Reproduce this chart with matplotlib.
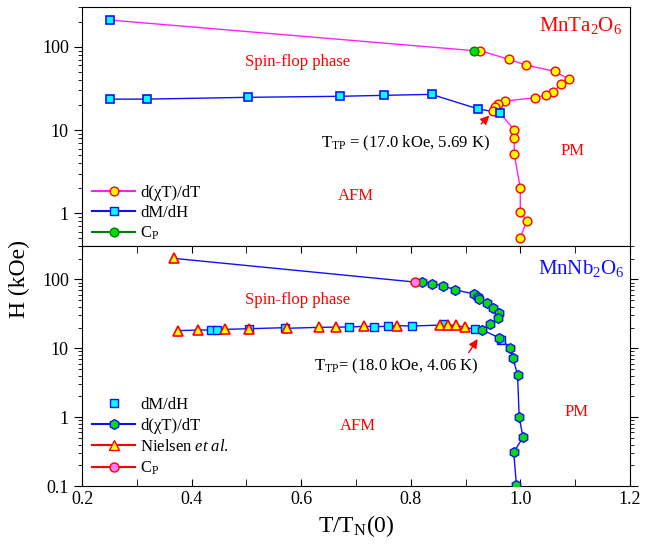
import matplotlib
matplotlib.use('Agg')
import matplotlib.pyplot as plt
from matplotlib.lines import Line2D
from matplotlib.ticker import LogLocator, NullFormatter, FixedLocator, FixedFormatter

plt.rcParams['font.family'] = ['Liberation Serif', 'DejaVu Serif']
plt.rcParams['mathtext.fontset'] = 'custom'
plt.rcParams['mathtext.rm'] = 'Liberation Serif'
plt.rcParams['mathtext.it'] = 'Liberation Serif:italic'
plt.rcParams['mathtext.default'] = 'regular'

# MnTa2O6 (top panel)
ta_dmdh_x = [0.251, 0.251, 0.318, 0.503, 0.670, 0.752, 0.838, 0.922, 0.963]
ta_dmdh_h = [209, 23.5, 23.5, 24.7, 25.4, 26.1, 26.8, 18.0, 16.1]
ta_chi_x = [0.927, 0.979, 1.010, 1.063, 1.089, 1.074, 1.060, 1.047, 1.026,
            0.973, 0.959, 0.953, 0.950, 0.989, 0.989, 0.989, 1.000, 1.000,
            1.012, 1.000]
ta_chi_h = [89.6, 70.5, 60.3, 50.6, 40.6, 35.3, 28.6, 26.1, 24.4, 22.3, 20.3,
            18.7, 17.1, 10.0, 8.1, 5.1, 2.03, 1.03, 0.82, 0.51]
ta_cp_x = [0.916]
ta_cp_h = [89.6]

# MnNb2O6 (bottom panel)
nb_niel_x = [0.367, 0.376, 0.412, 0.461, 0.504, 0.575, 0.632, 0.664, 0.715,
             0.775, 0.854, 0.868, 0.883, 0.899]
nb_niel_h = [202, 18.0, 18.4, 18.8, 19.2, 19.5, 20.1, 20.3, 20.8, 21.3, 21.7,
             21.7, 21.5, 20.1]
nb_dmdh_x = [0.435, 0.446, 0.504, 0.571, 0.688, 0.733, 0.758, 0.803, 0.861,
             0.917, 0.964]
nb_dmdh_h = [18.4, 18.6, 19.2, 19.9, 20.3, 20.6, 20.8, 21.0, 22.2, 18.8, 13.2]
nb_chi_x = [0.820, 0.838, 0.859, 0.880, 0.916, 0.923, 0.925, 0.940, 0.951,
            0.961, 0.959, 0.945, 0.931, 0.961, 0.982, 0.987, 0.995, 0.998,
            1.005, 0.988, 0.993]
nb_chi_h = [91.5, 86.5, 80.9, 70.8, 61.2, 56.0, 51.3, 45.8, 37.9, 32.8, 27.2,
            22.5, 18.4, 14.2, 10.2, 7.1, 4.09, 1.0, 0.51, 0.308, 0.103]
nb_cp_x = [0.807]
nb_cp_h = [91.5]

x_ticks = [0.2, 0.4, 0.6, 0.8, 1.0, 1.2]
x_labels = ['0.2', '0.4', '0.6', '0.8', '1.0', '1.2']

MAG = '#ff22ff'
BLUE = '#1010ff'
FS = 12


def style_axis(ax, ylim, bottom_labels):
    ax.set_yscale('log')
    ax.set_xlim(0.2, 1.2)
    ax.set_ylim(*ylim)
    ax.yaxis.set_major_locator(LogLocator(base=10, numticks=10))
    ax.yaxis.set_minor_locator(LogLocator(base=10, subs=range(2, 10),
                                          numticks=20))
    ax.yaxis.set_minor_formatter(NullFormatter())
    ax.yaxis.set_major_formatter(
        matplotlib.ticker.FuncFormatter(lambda v, p: '%g' % v))
    ax.xaxis.set_major_locator(FixedLocator(x_ticks))
    ax.xaxis.set_major_formatter(FixedFormatter(x_labels))
    ax.xaxis.set_minor_locator(FixedLocator([0.3, 0.5, 0.7, 0.9, 1.1]))
    ax.tick_params(axis='y', which='major', direction='out', length=6,
                   labelsize=13)
    ax.tick_params(axis='y', which='minor', direction='out', length=3)
    ax.tick_params(axis='x', which='both', direction='in', length=5,
                   labelsize=13, labelbottom=bottom_labels)


fig, (ax1, ax2) = plt.subplots(2, 1, figsize=(6.46, 5.58), dpi=100,
                               sharex=True)
fig.subplots_adjust(left=0.127, right=0.975, top=0.9875, bottom=0.129,
                    hspace=0)

# top panel
style_axis(ax1, (0.4, 300), False)
ax1.tick_params(axis='x', which='both', bottom=False)
mag_x = [ta_dmdh_x[0], ta_cp_x[0]] + ta_chi_x[:13] + [ta_dmdh_x[-1]] + \
    ta_chi_x[13:]
mag_h = [ta_dmdh_h[0], ta_cp_h[0]] + ta_chi_h[:13] + [ta_dmdh_h[-1]] + \
    ta_chi_h[13:]
ax1.plot(mag_x, mag_h, color=MAG, lw=1, zorder=2)
ax1.plot(ta_dmdh_x[1:], ta_dmdh_h[1:], color=BLUE, lw=1, zorder=2)
ax1.plot(ta_chi_x, ta_chi_h, 'o', ms=6.3, mfc='#ffff00', mec='#ff0000',
         mew=1, zorder=3)
ax1.plot(ta_dmdh_x, ta_dmdh_h, 's', ms=5.3, mfc='#00ffff', mec=BLUE,
         mew=1.2, zorder=4)
ax1.plot(ta_cp_x, ta_cp_h, 'o', ms=6.3, mfc='#00dd00', mec='#008000',
         mew=1, zorder=4)

ax1.text(0.593, 65, 'Spin-flop phase', color='red', fontsize=FS,
         ha='center', va='center')
ax1.text(0.699, 1.6, 'AFM', color='red', fontsize=FS, ha='center',
         va='center')
ax1.text(1.096, 5.65, 'PM', color='red', fontsize=FS, ha='center',
         va='center')
ax1.text(1.185, 182, r'MnTa$_2$O$_6$', color='red', fontsize=15,
         ha='right', va='center')
ax1.annotate(r'T$_{TP}$ = (17.0 kOe, 5.69 K)', xy=(0.947, 15.8),
             xytext=(0.637, 6.9), fontsize=FS, va='center',
             textcoords='data')
ax1.annotate('', xy=(0.947, 15.8), xytext=(0.925, 11.2),
             arrowprops=dict(arrowstyle='-|>', color='red', lw=1,
                             mutation_scale=13))

h1 = [Line2D([], [], color=MAG, marker='o', ms=6.3, mfc='#ffff00',
             mec='#ff0000'),
      Line2D([], [], color=BLUE, marker='s', ms=5.3, mfc='#00ffff',
             mec=BLUE),
      Line2D([], [], color='#008000', marker='o', ms=6.3, mfc='#00dd00',
             mec='#008000')]
ax1.legend(h1, ['d(χT)/dT', 'dM/dH', r'C$_P$'], loc='lower left',
           bbox_to_anchor=(0.0, -0.025), frameon=False, fontsize=FS,
           handlelength=2.6, handletextpad=0.3, labelspacing=0.25,
           borderaxespad=0.2)

# bottom panel
style_axis(ax2, (0.1, 300), True)
ax2.tick_params(axis='x', which='both', top=True)
ax2.tick_params(axis='y', which='both', right=True)
upper_x = [nb_niel_x[0], nb_cp_x[0]] + nb_chi_x
upper_h = [nb_niel_h[0], nb_cp_h[0]] + nb_chi_h
low = sorted(zip(nb_niel_x[1:] + nb_dmdh_x[:-1],
                 nb_niel_h[1:] + nb_dmdh_h[:-1]))
low_x = [p[0] for p in low] + [nb_chi_x[12]]
low_h = [p[1] for p in low] + [nb_chi_h[12]]
ax2.plot(upper_x, upper_h, color=BLUE, lw=1, zorder=2)
ax2.plot(low_x, low_h, color=BLUE, lw=1, zorder=2)
ax2.plot(nb_dmdh_x, nb_dmdh_h, 's', ms=5.3, mfc='#00ffff', mec=BLUE,
         mew=1, zorder=3)
ax2.plot(nb_niel_x, nb_niel_h, '^', ms=7.5, mfc='#ffff00', mec='#ff0000',
         mew=1.2, zorder=4)
ax2.plot(nb_chi_x, nb_chi_h, 'h', ms=7, mfc='#00dd00', mec=BLUE,
         mew=1, zorder=4)
ax2.plot(nb_cp_x, nb_cp_h, 'o', ms=6.5, mfc='#ff80ff', mec='#ff0000',
         mew=1, zorder=4)

ax2.text(0.593, 51, 'Spin-flop phase', color='red', fontsize=FS,
         ha='center', va='center')
ax2.text(0.704, 0.75, 'AFM', color='red', fontsize=FS, ha='center',
         va='center')
ax2.text(1.102, 1.17, 'PM', color='red', fontsize=FS, ha='center',
         va='center')
ax2.text(1.19, 144, r'MnNb$_2$O$_6$', color=BLUE, fontsize=15,
         ha='right', va='center')
ax2.annotate(r'T$_{TP}$= (18.0 kOe, 4.06 K)', xy=(0.925, 14.7),
             xytext=(0.624, 5.4), fontsize=FS, va='center')
ax2.annotate('', xy=(0.925, 14.7), xytext=(0.903, 8.0),
             arrowprops=dict(arrowstyle='-|>', color='red', lw=1,
                             mutation_scale=13))

h2 = [Line2D([], [], ls='none', marker='s', ms=5.3, mfc='#00ffff', mec=BLUE),
      Line2D([], [], color=BLUE, marker='h', ms=7, mfc='#00dd00', mec=BLUE),
      Line2D([], [], color='red', marker='^', ms=7.5, mfc='#ffff00',
             mec='#ff0000'),
      Line2D([], [], color='red', marker='o', ms=6.5, mfc='#ff80ff',
             mec='#ff0000')]
ax2.legend(h2, ['dM/dH', 'd(χT)/dT', r'Nielsen $\it{et\ al.}$', r'C$_P$'],
           loc='lower left', bbox_to_anchor=(0.0, -0.005), frameon=False,
           fontsize=FS, handlelength=2.6, handletextpad=0.3,
           labelspacing=0.3, borderaxespad=0.2)

ax2.set_xlabel(r'T/T$_N$(0)', fontsize=17)
fig.text(0.03, 0.5, 'H (kOe)', rotation=90, fontsize=17, ha='center',
         va='center')

fig.savefig('out.png', dpi=100)
